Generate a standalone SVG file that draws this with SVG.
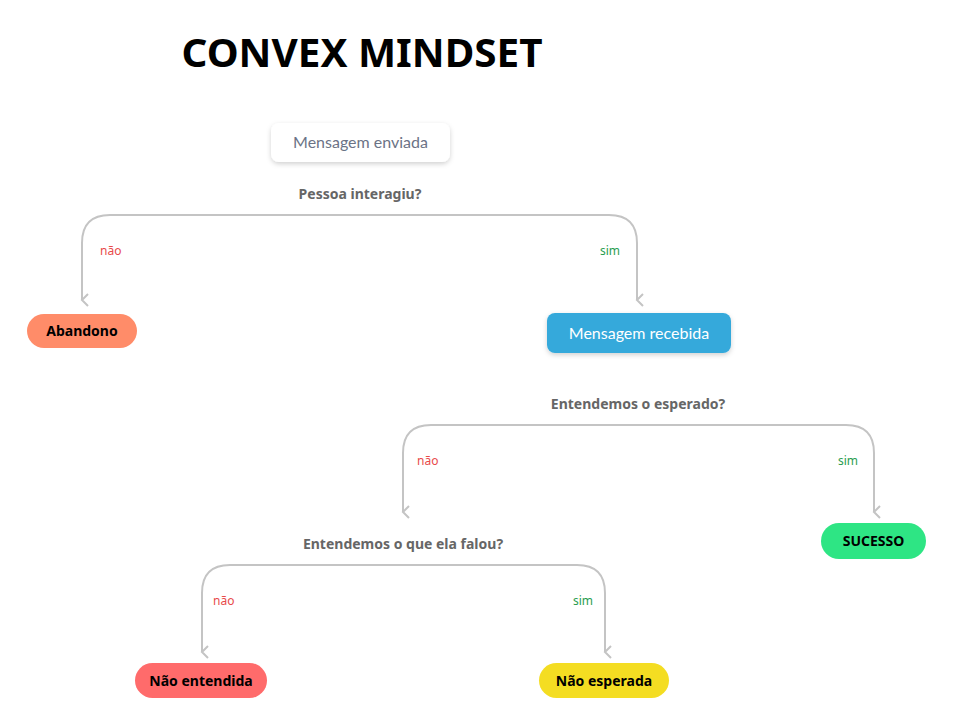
<svg xmlns="http://www.w3.org/2000/svg" width="953" height="727" viewBox="0 0 953 727">
<style>
.q{font-family:"Noto Sans","Liberation Sans",sans-serif;font-size:14px;font-weight:bold;fill:#666;text-anchor:middle}
.n{font-family:"Noto Sans","Liberation Sans",sans-serif;font-size:12px;fill:#e84a4a}
.s{font-family:"Noto Sans","Liberation Sans",sans-serif;font-size:12px;fill:#2a9d50}
.p{font-family:"Noto Sans","Liberation Sans",sans-serif;font-size:14px;font-weight:bold;fill:#000;text-anchor:middle}
.b{font-family:"Lato","Noto Sans",sans-serif;font-size:16px;text-anchor:middle}
.c{fill:none;stroke:#c4c4c4;stroke-width:2}
</style>
<defs>
<marker id="a" markerWidth="14" markerHeight="10" refX="7" refY="8" orient="auto-start-reverse" markerUnits="userSpaceOnUse" viewBox="0 0 14 10">
<path d="M1 2 L7 8 L13 2" fill="none" stroke="#c4c4c4" stroke-width="2"/>
</marker>
<filter id="sh" x="-20%" y="-30%" width="140%" height="170%"><feDropShadow dx="0" dy="2" stdDeviation="2.5" flood-color="#000" flood-opacity="0.18"/></filter>
</defs>
<rect width="953" height="727" fill="#fff"/>
<text x="362" y="67" font-family="Noto Sans, Liberation Sans, sans-serif" font-size="40" font-weight="bold" text-anchor="middle" fill="#000" textLength="361" lengthAdjust="spacingAndGlyphs">CONVEX MINDSET</text>
<g id="connectors">
<path class="c" d="M82 300 V243 Q82 215 110 215 H609 Q637 215 637 243 V300" marker-start="url(#a)" marker-end="url(#a)"/>
<path class="c" d="M403 512 V453 Q403 425 431 425 H846 Q874 425 874 453 V512" marker-start="url(#a)" marker-end="url(#a)"/>
<path class="c" d="M202 652 V593 Q202 565 230 565 H577 Q605 565 605 593 V652" marker-start="url(#a)" marker-end="url(#a)"/>
<text class="q" x="360" y="199">Pessoa interagiu?</text>
<text class="n" x="100" y="255">não</text>
<text class="s" x="600" y="255">sim</text>
<text class="q" x="638" y="409">Entendemos o esperado?</text>
<text class="n" x="417" y="465">não</text>
<text class="s" x="838" y="465">sim</text>
<text class="q" x="403" y="549">Entendemos o que ela falou?</text>
<text class="n" x="213" y="605">não</text>
<text class="s" x="573" y="605">sim</text>
</g>
<g id="enviada"><rect x="271" y="123" width="179" height="39" rx="8" fill="#fff" filter="url(#sh)"/><text class="b" x="360.5" y="148" fill="#6b7386">Mensagem enviada</text></g>
<g id="abandono"><rect x="27" y="314" width="110" height="34" rx="17" fill="#ff8c69"/><text class="p" x="82" y="336">Abandono</text></g>
<g id="recebida"><rect x="547" y="313" width="184" height="40" rx="8" fill="#36a9db" filter="url(#sh)"/><text class="b" x="639" y="339" fill="#fff">Mensagem recebida</text></g>
<g id="sucesso"><rect x="821" y="523" width="105" height="36" rx="18" fill="#2ee584"/><text class="p" x="873.5" y="546">SUCESSO</text></g>
<g id="naoentendida"><rect x="135" y="663" width="132" height="35" rx="17.5" fill="#ff6b6b"/><text class="p" x="201" y="686">Não entendida</text></g>
<g id="naoesperada"><rect x="539" y="663" width="130" height="35" rx="17.5" fill="#f4dd22"/><text class="p" x="604" y="686">Não esperada</text></g>
</svg>
